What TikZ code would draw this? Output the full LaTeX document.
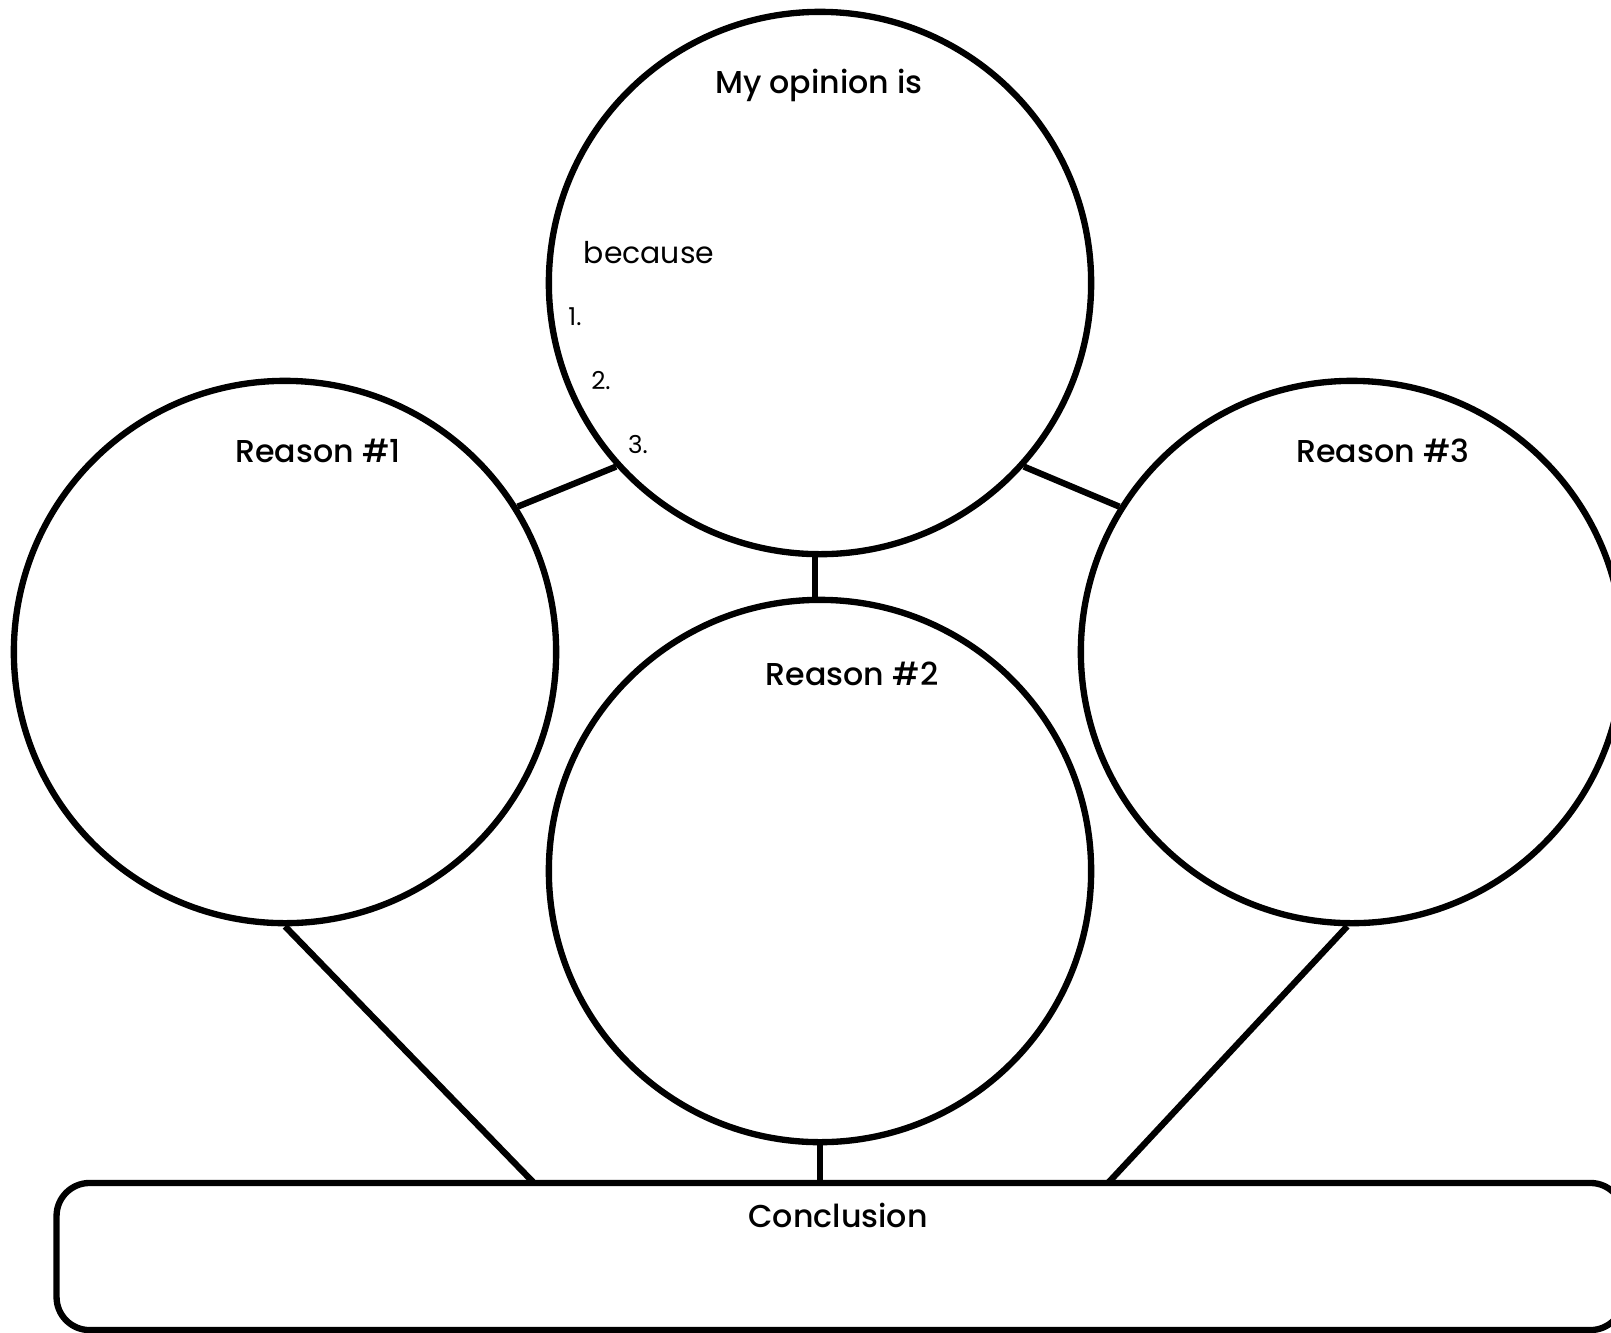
\documentclass[tikz,border=0pt]{standalone}
\usepackage{fontspec}
\setmainfont{Poppins}
\newfontfamily\headfont{Poppins}[UprightFont=* Medium]
\usepackage{tikz}
\usetikzlibrary{positioning,calc}

\tikzset{
    bubble/.style={circle, draw, line width=1.8pt, minimum size=5.42cm, inner sep=0pt},
    panel/.style={draw, line width=1.8pt, rounded corners=0.33cm, minimum width=15.66cm, minimum height=1.47cm, inner sep=0pt},
    link/.style={line width=1.8pt},
    heading/.style={font=\headfont\fontsize{9}{11}\selectfont},
    plain/.style={font=\fontsize{8.5}{10}\selectfont},
    listnum/.style={font=\fontsize{7}{9}\selectfont}
}

\begin{document}
\begin{tikzpicture}[x=0.01cm, y=-0.01cm]
    \useasboundingbox (0,0) rectangle (1611,1332);

    % Circles
    \node[bubble] (top) at (820,283) {};
    \node[bubble] (left) at (285,652) {};
    \node[bubble] (mid) at (820,871) {};
    \node[bubble] (right) at (1352,652) {};

    % Conclusion box
    \node[panel] (box) at (840,1256.5) {};
    \coordinate (cl) at (534,1183);
    \coordinate (cr) at (1108,1183);

    % Texts
    \node[heading] (opinion) at (819,85) {My opinion is};
    \node[plain] (because) at (649,253) {because};
    \node[listnum] (one) at (575,317) {1.};
    \node[listnum] (two) at (601,380) {2.};
    \node[listnum] (three) at (638,444) {3.};
    \node[heading] (r1) at (318,451) {Reason \#1};
    \node[heading] (r2) at (852,674) {Reason \#2};
    \node[heading] (r3) at (1383,451) {Reason \#3};
    \node[heading] (concl) at (838,1215) {Conclusion};

    % Links
    \draw[link] (top.222) -- (left.32);
    \draw[link] (top.318) -- (right.148);
    \draw[link] (top.269) -- (mid.91);
    \draw[link] (left.270.6) -- (cl);
    \draw[link] (mid.south) -- (mid.south |- box.north);
    \draw[link] (right.269.6) -- (cr);
\end{tikzpicture}
\end{document}
